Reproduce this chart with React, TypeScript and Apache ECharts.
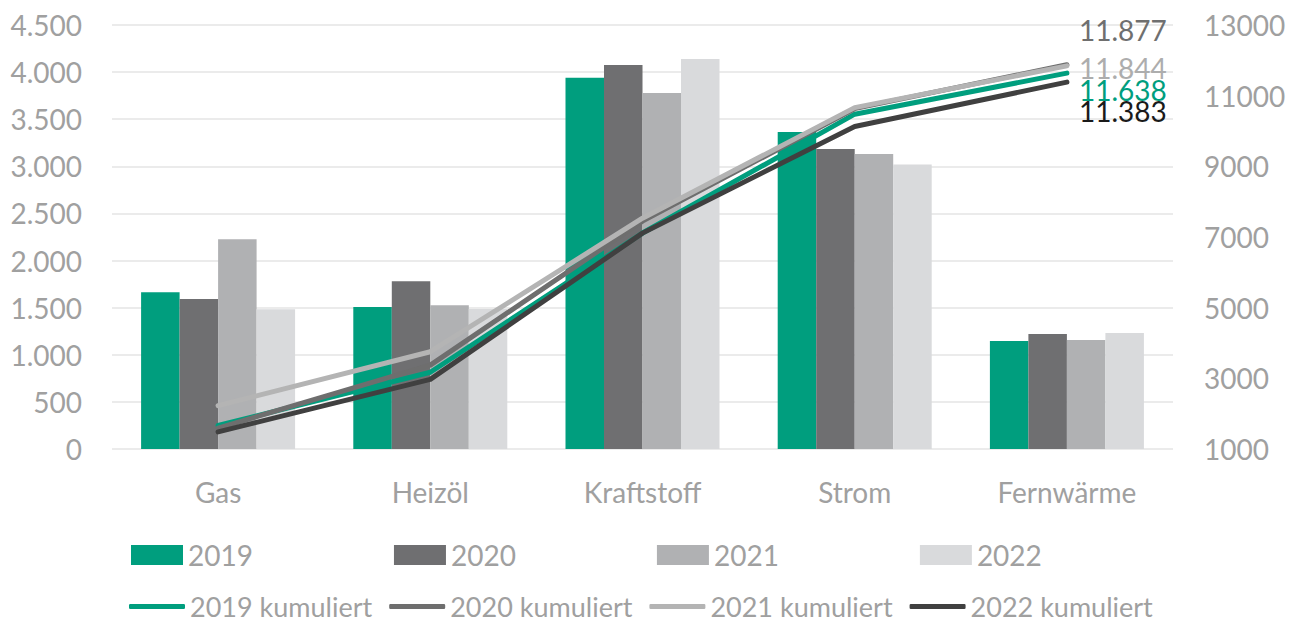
import React, { useEffect, useRef } from "react";
import * as echarts from "echarts";

const categories = ["Gas", "Heizöl", "Kraftstoff", "Strom", "Fernwärme"];
const years = ["2019", "2020", "2021", "2022"];

const bars2019 = [1664, 1508, 3940, 3364, 1147];
const bars2020 = [1593, 1781, 4075, 3183, 1221];
const bars2021 = [2227, 1526, 3778, 3130, 1157];
const bars2022 = [1484, 1487, 4139, 3019, 1232];

const cum2019 = [1664, 3172, 7112, 10476, 11638];
const cum2020 = [1593, 3374, 7449, 10632, 11877];
const cum2021 = [2227, 3753, 7531, 10661, 11844];
const cum2022 = [1484, 2971, 7110, 10129, 11383];

const leftTicks = { min: 0, max: 4500, interval: 500 };
const rightTicks = { min: 1000, max: 13000, interval: 2000 };

const barColors = ["#009E7E", "#6F6F71", "#B0B1B3", "#D9DADC"];
const lineColors = ["#009E7E", "#6E6E6E", "#B4B4B4", "#404040"];
const endLabelColors = ["#009E7E", "#6F6F6F", "#ADADAD", "#1A1A1A"];
const endLabelOffsets = [17, -35, 2, 29];

const FONT = "Lato, 'Noto Sans', sans-serif";
const GREY = "#A0A0A0";

const de = (v: number) => String(Math.round(v)).replace(/\B(?=(\d{3})+(?!\d))/g, ".");

export default function App() {
  const ref = useRef<HTMLDivElement>(null);
  useEffect(() => {
    if (!ref.current) return;
    const chart = echarts.init(ref.current, undefined, { renderer: "svg" });
    const barData = [bars2019, bars2020, bars2021, bars2022];
    const cumData = [cum2019, cum2020, cum2021, cum2022];
    const barSeries = years.map((y, i) => ({
      name: y,
      type: "bar",
      yAxisIndex: 0,
      data: barData[i],
      barWidth: 38.5,
      barGap: "0%",
      itemStyle: { color: barColors[i] },
      z: 2,
    }));
    const lineSeries = years.map((y, i) => ({
      name: y + " kumuliert",
      type: "line",
      yAxisIndex: 1,
      symbol: "none",
      z: 5 + i,
      lineStyle: { color: lineColors[i], width: 5, cap: "round", join: "round" },
      itemStyle: { color: lineColors[i] },
      endLabel: {
        show: true,
        distance: 12,
        offset: [0, endLabelOffsets[i]],
        formatter: (p: any) => de(Array.isArray(p.value) ? p.value[1] : p.value),
        color: endLabelColors[i],
        fontSize: 28,
        lineHeight: 20,
        fontFamily: FONT,
      },
      data: cumData[i],
    }));
    chart.setOption({
      animation: false,
      backgroundColor: "#ffffff",
      textStyle: { fontFamily: FONT },
      grid: { left: 112, right: 122, top: 25, bottom: 173, containLabel: false },
      legend: [
        {
          data: years,
          left: 131,
          top: 541,
          padding: 0,
          itemWidth: 52,
          itemHeight: 20,
          itemGap: 141,
          icon: "rect",
          textStyle: { color: GREY, fontSize: 28, fontFamily: FONT, lineHeight: 24 },
        },
        {
          data: years.map((y) => y + " kumuliert"),
          left: 129,
          top: 593,
          padding: 0,
          itemWidth: 56,
          itemHeight: 5,
          itemGap: 17,
          icon: "roundRect",
          textStyle: { color: GREY, fontSize: 27, fontFamily: FONT, lineHeight: 22 },
        },
      ],
      xAxis: {
        type: "category",
        data: categories,
        axisLine: { show: false },
        axisTick: { show: false },
        axisLabel: { color: GREY, fontSize: 28, fontFamily: FONT, margin: 29 },
      },
      yAxis: [
        {
          type: "value",
          ...leftTicks,
          axisLabel: { color: GREY, fontSize: 28, fontFamily: FONT, margin: 30, formatter: (v: number) => de(v) },
          splitLine: { show: true, lineStyle: { color: "#E4E4E4", width: 1.5 } },
          axisLine: { show: false },
          axisTick: { show: false },
        },
        {
          type: "value",
          ...rightTicks,
          axisLabel: { color: GREY, fontSize: 28, fontFamily: FONT, margin: 31, formatter: (v: number) => String(v) },
          splitLine: { show: false },
          axisLine: { show: false },
          axisTick: { show: false },
        },
      ],
      series: [...barSeries, ...lineSeries],
    });
    return () => chart.dispose();
  }, []);
  return (
    <div
      ref={ref}
      style={{ position: "fixed", left: 0, top: 0, width: 1295, height: 622, background: "#fff" }}
    />
  );
}
